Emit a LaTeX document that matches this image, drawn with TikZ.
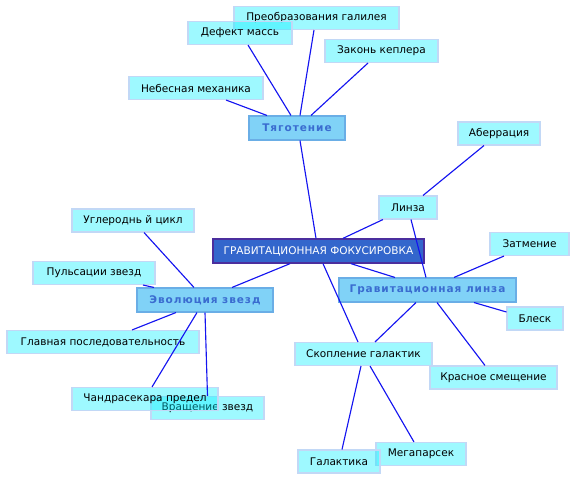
\documentclass[tikz,border=0pt]{standalone}
\usepackage{fontspec}
\setmainfont{DejaVu Sans}
\newfontfamily\hubfont{DejaVu Sans}[LetterSpace=9]
\usetikzlibrary{calc}
\definecolor{mapRootFill}{HTML}{3366CC}
\definecolor{mapRootBorder}{HTML}{4B2E9E}
\definecolor{mapRootText}{HTML}{FFFFFF}
\definecolor{mapHubFill}{HTML}{80D2F7}
\definecolor{mapHubBorder}{HTML}{6AAEE6}
\definecolor{mapHubText}{HTML}{3A6CD0}
\definecolor{mapLeafFill}{HTML}{00EEFF}
\definecolor{mapLeafBorder}{HTML}{C2D8F6}
\definecolor{mapLink}{HTML}{1414F0}

\begin{document}
\begin{tikzpicture}[
  x=0.75pt, y=-0.75pt,
  font=\fontsize{7.9}{9.5}\selectfont,
  root/.style={
    rectangle,
    fill=mapRootFill,
    draw=mapRootBorder,
    line width=1pt,
    text=mapRootText,
    minimum height=24*0.75pt,
    minimum width=#1*0.75pt,
    inner sep=0pt
  },
  hub/.style={
    rectangle,
    fill=mapHubFill,
    draw=mapHubBorder,
    line width=0.8pt,
    text=mapHubText,
    font=\fontsize{7.9}{9.5}\hubfont\bfseries,
    minimum height=24*0.75pt,
    minimum width=#1*0.75pt,
    inner sep=0pt
  },
  leaf/.style={
    rectangle,
    fill=mapLeafFill,
    fill opacity=0.38,
    text opacity=1,
    draw=mapLeafBorder,
    line width=0.8pt,
    text=black,
    minimum height=23*0.75pt,
    minimum width=#1*0.75pt,
    inner sep=0pt
  },
  link/.style={mapLink, line width=0.85pt}
]
  \useasboundingbox (0,0) rectangle (576,481);

  % centre
  \node[root=211] (focus) at (318.5,251) {ГРАВИТАЦИОННАЯ ФОКУСИРОВКА};

  % hubs
  \node[hub=96]  (tyag) at (297,128)   {Тяготение};
  \node[hub=136] (evol) at (205,300)   {Эволюция звезд};
  \node[hub=177] (grav) at (427.5,290) {Гравитационная линза};

  % leaves of Тяготение
  \node[leaf=165] (preob)  at (316.5,18) {Преобразования галилея};
  \node[leaf=104] (defekt) at (240,33)   {Дефект массь};
  \node[leaf=113] (zakon)  at (381.5,51) {Законь  кеплера};
  \node[leaf=134] (nebes)  at (196,88)   {Небесная механика};

  % leaves of Эволюция звезд
  \node[leaf=122] (uglerod) at (133,220.5) {Углероднь й цикл};
  \node[leaf=122] (puls)    at (94,273)    {Пульсации звезд};
  \node[leaf=192] (glavn)   at (103,342)   {Главная последовательность};
  \node[leaf=113] (vrasch)  at (207.5,408) {Вращение звезд};
  \node[leaf=146] (chandr)  at (145,399)   {Чандрасекара предел};

  % leaves of Гравитационная линза
  \node[leaf=82]  (aber)   at (499,133.5) {Аберрация};
  \node[leaf=58]  (linza)  at (408,207.5) {Линза};
  \node[leaf=79]  (zatm)   at (529.5,244) {Затмение};
  \node[leaf=56]  (blesk)  at (535,318.5) {Блеск};
  \node[leaf=137] (skopl)  at (363.5,354) {Скопление галактик};
  \node[leaf=127] (krasn)  at (493.5,377.5) {Красное смещение};
  \node[leaf=90]  (mega)   at (421,454)   {Мегапарсек};
  \node[leaf=82]  (galakt) at (339,461.5) {Галактика};

  % links
  \draw[link] ($(nebes.south)+(30,0)$) -- ($(tyag.north)+(-30,0)$);
  \draw[link] ($(defekt.south)+(8,0)$) -- ($(tyag.north)+(-6,0)$);
  \draw[link] ($(preob.south)+(-2.5,0)$) -- ($(tyag.north)+(3,0)$);
  \draw[link] ($(zakon.south)+(-13.5,0)$) -- ($(tyag.north)+(14,0)$);
  \draw[link] ($(tyag.south)+(3,0)$) -- ($(focus.north)+(-2.5,0)$);

  \draw[link] ($(uglerod.south)+(11,0)$) -- ($(evol.north)+(-11,0)$);
  \draw[link] ($(puls.south)+(49,0)$) -- ($(evol.north)+(-51,0)$);
  \draw[link] ($(glavn.north)+(29,0)$) -- ($(evol.south)+(-29,0)$);
  \draw[link] ($(chandr.north)+(7,0)$) -- ($(evol.south)+(-8,0)$);
  \draw[link] (vrasch.north) -- (evol.south);
  \draw[link] ($(evol.north)+(27,0)$) -- ($(focus.south)+(-28.5,0)$);

  \draw[link] ($(linza.south)+(-25,0)$) -- ($(focus.north)+(24.5,0)$);
  \draw[link] ($(aber.south)+(-15,0)$) -- ($(linza.north)+(15,0)$);
  \draw[link] ($(linza.south)+(3,0)$) -- ($(grav.north)+(-1.5,0)$);
  \draw[link] ($(focus.south)+(32.5,0)$) -- ($(grav.north)+(-32.5,0)$);
  \draw[link] ($(zatm.south)+(-25.5,0)$) -- ($(grav.north)+(26.5,0)$);
  \draw[link] ($(blesk.west)+(0,-6.5)$) -- ($(grav.south)+(46.5,0)$);
  \draw[link] ($(grav.south)+(-11.5,0)$) -- ($(skopl.north)+(11.5,0)$);
  \draw[link] ($(grav.south)+(9.5,0)$) -- ($(krasn.north)+(-8.5,0)$);
  \draw[link] ($(focus.south)+(4.5,0)$) -- ($(skopl.north)+(-5.5,0)$);
  \draw[link] ($(skopl.south)+(-2.5,0)$) -- ($(galakt.north)+(3,0)$);
  \draw[link] ($(skopl.south)+(6.5,0)$) -- ($(mega.north)+(-7,0)$);
\end{tikzpicture}
\end{document}
